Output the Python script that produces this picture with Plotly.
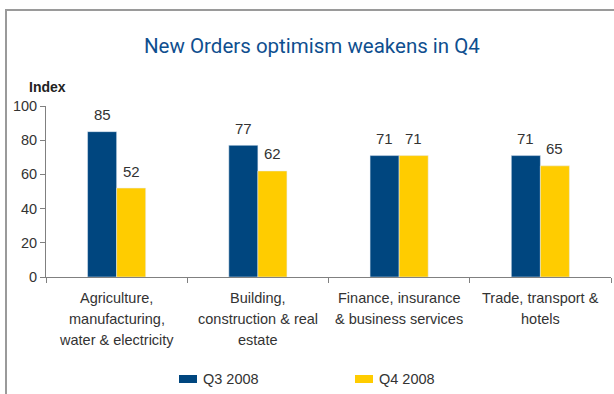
import plotly.graph_objects as go

# Survey data: New Orders optimism index by industry
categories = [
    "Agriculture,\nmanufacturing,\nwater & electricity",
    "Building,\nconstruction & real\nestate",
    "Finance, insurance\n& business services",
    "Trade, transport &\nhotels",
]
q3_2008 = [85, 77, 71, 71]
q4_2008 = [52, 62, 71, 65]
series_names = ["Q3 2008", "Q4 2008"]
y_ticks = [0, 20, 40, 60, 80, 100]

COL_Q3 = "#00467f"
COL_Q4 = "#ffcc00"
TXT = "#333333"
FONT = "Liberation Sans, Arial, sans-serif"

W, H = 614, 394
L, R, T, B = 46, 3, 106, 117
PW, PH = W - L - R, H - T - B


def px(x):
    return (x - L) / PW


def py(y):
    return (H - B - y) / PH


keys = [c.replace("\n", " ") for c in categories]
bw = 0.2057

fig = go.Figure()
fig.add_trace(go.Bar(x=keys, y=q3_2008, name=series_names[0], marker_color=COL_Q3,
                     width=bw, offset=-bw, showlegend=False))
fig.add_trace(go.Bar(x=keys, y=q4_2008, name=series_names[1], marker_color=COL_Q4,
                     width=bw, offset=0, showlegend=False))

ann = []
# value labels above each bar
for i, (a, b) in enumerate(zip(q3_2008, q4_2008)):
    for v, dx in ((a, -bw / 2), (b, bw / 2)):
        ann.append(dict(x=i + dx, y=v, xref="x", yref="y", text=str(v), showarrow=False,
                        yanchor="middle", yshift=17, font=dict(size=15, color=TXT, family=FONT)))

# category labels under each group, one annotation per line
for i, lab in enumerate(categories):
    for j, line in enumerate(lab.split("\n")):
        ann.append(dict(x=i, y=0, xref="x", yref="y", text=line, showarrow=False,
                        xanchor="center", yanchor="middle", yshift=-(21 + 21 * j),
                        font=dict(size=14.5, color=TXT, family=FONT)))

# title and axis caption
ann.append(dict(x=px(311.5), y=py(46), xref="paper", yref="paper",
                text="New Orders optimism weakens in Q4", showarrow=False,
                xanchor="center", yanchor="middle",
                font=dict(size=20.5, color="#0f4f8f", family="Roboto, sans-serif")))
ann.append(dict(x=px(27), y=py(87), xref="paper", yref="paper", text="<b>Index</b>",
                showarrow=False, xanchor="left", yanchor="middle",
                font=dict(size=14, color="#222222", family=FONT)))

# legend
shapes = []
for k, (name, col) in enumerate(zip(series_names, [COL_Q3, COL_Q4])):
    x0 = 179 + 176 * k
    shapes.append(dict(type="rect", xref="paper", yref="paper", x0=px(x0), x1=px(x0 + 18),
                       y0=py(383), y1=py(375), fillcolor=col, line=dict(width=0)))
    ann.append(dict(x=px(x0 + 22), y=py(379), xref="paper", yref="paper", text=name,
                    showarrow=False, xanchor="left", yanchor="middle",
                    font=dict(size=14.5, color=TXT, family=FONT)))

# outer frame (top and left edges)
shapes.append(dict(type="line", xref="paper", yref="paper", x0=px(5), x1=px(620),
                   y0=py(10), y1=py(10), line=dict(color="#9a9a9a", width=2)))
shapes.append(dict(type="line", xref="paper", yref="paper", x0=px(6), x1=px(6),
                   y0=py(9), y1=py(400), line=dict(color="#9a9a9a", width=2)))

fig.update_layout(
    width=W, height=H, margin=dict(l=L, r=R, t=T, b=B),
    paper_bgcolor="white", plot_bgcolor="white",
    barmode="group", showlegend=False,
    annotations=ann, shapes=shapes,
    font=dict(family=FONT, color=TXT),
)
fig.update_xaxes(type="category", showticklabels=False, ticks="outside", tickson="boundaries",
                 ticklen=5, tickcolor="#808080", showline=True, linecolor="#808080",
                 linewidth=1, showgrid=False, zeroline=False, fixedrange=True)
fig.update_yaxes(range=[0, 100], tickvals=y_ticks, ticks="outside", ticklen=5,
                 tickcolor="#808080", showline=True, linecolor="#808080", linewidth=1,
                 showgrid=False, zeroline=False,
                 tickfont=dict(size=14.5, color=TXT, family=FONT), fixedrange=True)

fig.write_html("out.html", config={"displayModeBar": False})
